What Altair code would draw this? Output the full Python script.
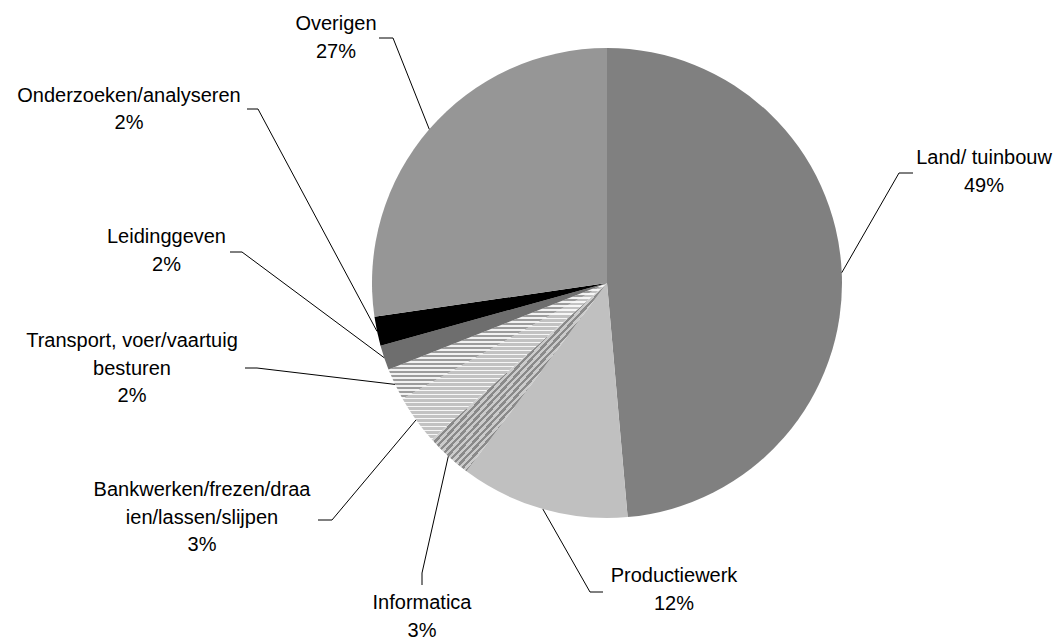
import altair as alt
import pandas as pd

# ---- data ----
categories = [
    "Land/ tuinbouw",
    "Productiewerk",
    "Informatica",
    "Bankwerken/frezen/draaien/lassen/slijpen",
    "Transport, voer/vaartuig besturen",
    "Leidinggeven",
    "Onderzoeken/analyseren",
    "Overigen",
]
label_lines = [
    ["Land/ tuinbouw"],
    ["Productiewerk"],
    ["Informatica"],
    ["Bankwerken/frezen/draa", "ien/lassen/slijpen"],
    ["Transport, voer/vaartuig", "besturen"],
    ["Leidinggeven"],
    ["Onderzoeken/analyseren"],
    ["Overigen"],
]
values = [48.6, 11.6, 3.2, 3.4, 2.2, 1.7, 2.0, 27.3]

# ---- label layout (page pixels): text centre / first baseline, leader elbow, leader end ----
label_x = [984, 674, 422, 202, 132, 166.5, 129, 336]
label_y = [164, 582, 609, 496, 347, 243, 101.5, 30]
elbow_x = [899, 590, 422, 332, 257, 242, 258, 393]
elbow_y = [173, 592, 573, 520, 368, 252, 109, 38]
end_x = [913, 603, 422, 318, 245, 230, 247, 379]
end_y = [173, 592, 585, 520, 368, 252, 109, 38]

CX, CY, R = 607, 283, 235  # pie centre (page px) and radius
M = 8  # page margin

df = pd.DataFrame({
    "cat": categories,
    "value": values,
    "idx": list(range(len(categories))),
    "text": [lines + [f"{round(v):.0f}%"] for lines, v in zip(label_lines, values)],
    "lx": label_x, "ly": label_y,
    "bx": elbow_x, "by": elbow_y,
    "cx": end_x, "cy": end_y,
})


def stripes(c1, c2, n, frac, x2, y2):
    stops = []
    for i in range(n):
        a = i / n
        b = (i + frac) / n
        c = (i + 1) / n
        stops += [
            {"offset": a, "color": c1},
            {"offset": b, "color": c1},
            {"offset": b, "color": c2},
            {"offset": c, "color": c2},
        ]
    return {"gradient": "linear", "x1": 0, "y1": 0, "x2": x2, "y2": y2, "stops": stops}


fills = {
    "Land/ tuinbouw": "#808080",
    "Productiewerk": "#c0c0c0",
    "Informatica": stripes("#8a8a8a", "#cbcbcb", 54, 0.5, 1, 1),
    "Bankwerken/frezen/draaien/lassen/slijpen": stripes("#c2c2c2", "#f6f6f6", 39, 0.6, 0, 1),
    "Transport, voer/vaartuig besturen": stripes("#9c9c9c", "#f2f2f2", 29, 0.5, 0, 1),
    "Leidinggeven": "#6e6e6e",
    "Onderzoeken/analyseren": "#000000",
}
conditions = [{"test": f"datum.cat === '{k}'", "value": v} for k, v in fills.items()]

base = alt.Chart(df)

pie = base.mark_arc(radius=R, stroke=None).encode(
    theta=alt.Theta("value:Q", stack=True),
    order=alt.Order("idx:O"),
    fill=alt.FillValue(value="#969696", condition=conditions),
    x=alt.value(CX - M),
    y=alt.value(CY - M),
)

geo = base.transform_joinaggregate(total="sum(value)").transform_window(
    cum="sum(value)", sort=[alt.SortField("idx")], frame=[None, 0]
).transform_calculate(
    ang="(datum.cum - datum.value / 2) / datum.total * 2 * PI",
).transform_calculate(
    ex=f"{CX} + {R} * sin(datum.ang) - {M}",
    ey=f"{CY} - {R} * cos(datum.ang) - {M}",
    bxp=f"datum.bx - {M}", byp=f"datum.by - {M}",
    cxp=f"datum.cx - {M}", cyp=f"datum.cy - {M}",
    lxp=f"datum.lx - {M}", lyp=f"datum.ly - {M}",
)

leader1 = geo.mark_rule(color="black", strokeWidth=1).encode(
    x=alt.X("ex:Q", scale=None, axis=None),
    y=alt.Y("ey:Q", scale=None, axis=None),
    x2="bxp:Q",
    y2="byp:Q",
)
leader2 = geo.mark_rule(color="black", strokeWidth=1).encode(
    x=alt.X("bxp:Q", scale=None, axis=None),
    y=alt.Y("byp:Q", scale=None, axis=None),
    x2="cxp:Q",
    y2="cyp:Q",
)
labels = geo.mark_text(
    align="center", baseline="alphabetic", fontSize=20, lineHeight=27.5,
    font="Liberation Sans", color="black",
).encode(
    x=alt.X("lxp:Q", scale=None, axis=None),
    y=alt.Y("lyp:Q", scale=None, axis=None),
    text="text",
)

chart = alt.layer(pie, leader1, leader2, labels).properties(
    width=1045, height=631,
    autosize=alt.AutoSizeParams(type="none"),
    padding=0,
    background="white",
).configure_view(stroke=None)

chart.save("out.html", embed_options={"renderer": "svg", "actions": False})
